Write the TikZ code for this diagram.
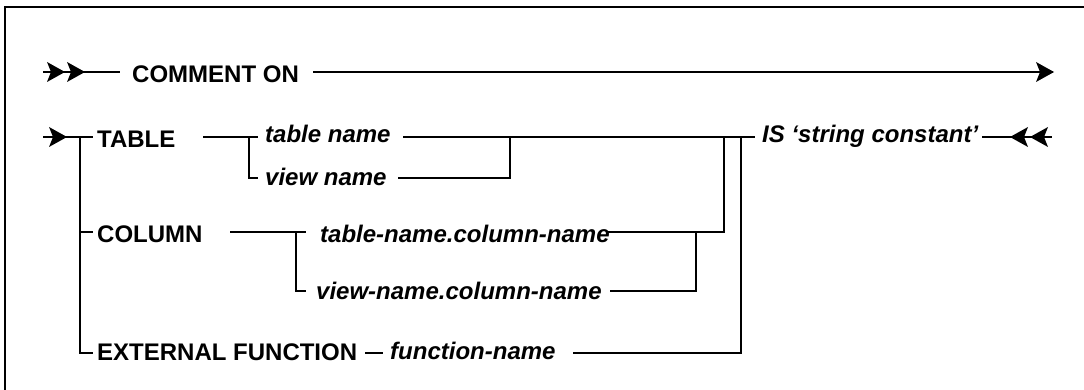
\documentclass[tikz,border=0pt]{standalone}
\usepackage{fontspec}
\setmainfont{Liberation Sans}
\begin{document}
\begin{tikzpicture}[x=1pt,y=-1pt,
  kw/.style={anchor=base west,inner sep=0pt,font=\fontsize{24}{28}\selectfont\bfseries},
  var/.style={anchor=base west,inner sep=0pt,font=\fontsize{24}{28}\selectfont\bfseries\itshape},
  rail/.style={line width=2.2pt},
  frame/.style={line width=2.8pt},
  headR/.pic={\fill (0,0) -- (-18,-10) -- (-14,0) -- (-18,10) -- cycle;},
  headL/.pic={\fill (0,0) -- (18,-10) -- (14,0) -- (18,10) -- cycle;}
]
\useasboundingbox (0,0) rectangle (1084,390);
% frame (open at right and bottom)
\draw[frame] (5,392) -- (5,7) -- (1086,7);

% texts
\node[kw]  (comment) at (132,83)  {COMMENT ON};
\node[kw]  (table)   at (97,148)  {TABLE};
\node[var] (tname)   at (265,143) {table name};
\node[var] (vname)   at (265,186) {view name};
\node[kw]  (column)  at (97,242)  {COLUMN};
\node[var] (tcol)    at (320,242) {table-name.column-name};
\node[var] (vcol)    at (316,299) {view-name.column-name};
\node[kw]  (ext)     at (97,360)  {EXTERNAL FUNCTION};
\node[var] (fname)   at (390,359) {function-name};
\node[var] (is)      at (762,143) {IS ‘string constant’};

% coordinates
\coordinate (r1s) at (43,72);
\coordinate (r1a) at (120,72);
\coordinate (r1b) at (313,72);
\coordinate (r1e) at (1053,72);
\coordinate (r2s) at (43,137);
\coordinate (lb)  at (80,137);
\coordinate (lt)  at (93,137);
\coordinate (lc)  at (80,232);
\coordinate (lct) at (93,232);
\coordinate (le)  at (80,353);
\coordinate (let) at (93,353);
\coordinate (ta)  at (203,137);
\coordinate (tb)  at (249,137);
\coordinate (tc)  at (258,137);
\coordinate (td)  at (249,178);
\coordinate (te)  at (258,178);
\coordinate (tn1) at (403,137);
\coordinate (isl) at (755,137);
\coordinate (vn1) at (398,178);
\coordinate (vn2) at (510,178);
\coordinate (vn3) at (510,137);
\coordinate (ca)  at (230,232);
\coordinate (cb)  at (296,232);
\coordinate (cc)  at (306,232);
\coordinate (cd)  at (296,291);
\coordinate (ce)  at (306,291);
\coordinate (tc1) at (607,232);
\coordinate (tc2) at (724,232);
\coordinate (tc3) at (724,137);
\coordinate (vc1) at (610,291);
\coordinate (vc2) at (696,291);
\coordinate (vc3) at (696,232);
\coordinate (d1)  at (365,353);
\coordinate (d2)  at (383,353);
\coordinate (fn1) at (573,353);
\coordinate (fn2) at (741,353);
\coordinate (fn3) at (741,137);
\coordinate (ise1) at (982,137);
\coordinate (ise2) at (1052,137);

% row 1
\draw[rail] (r1s) -- (r1a);
\pic at (65,72) {headR};
\pic at (85,72) {headR};
\draw[rail] (r1b) -- (r1e);
\pic at (1054,72) {headR};

% row 2 entry and left rail
\draw[rail] (r2s) -- (lt);
\pic at (67,137) {headR};
\draw[rail] (lb) -- (le) -- (let);
\draw[rail] (lc) -- (lct);

% TABLE branch
\draw[rail] (ta) -- (tc);
\draw[rail] (tb) -- (td) -- (te);
\draw[rail] (tn1) -- (isl);
\draw[rail] (vn1) -- (vn2) -- (vn3);

% COLUMN branch
\draw[rail] (ca) -- (cc);
\draw[rail] (cb) -- (cd) -- (ce);
\draw[rail] (tc1) -- (tc2) -- (tc3);
\draw[rail] (vc1) -- (vc2) -- (vc3);

% EXTERNAL FUNCTION branch
\draw[rail] (d1) -- (d2);
\draw[rail] (fn1) -- (fn2) -- (fn3);

% end
\draw[rail] (ise1) -- (ise2);
\pic at (1010,137) {headL};
\pic at (1030,137) {headL};
\end{tikzpicture}
\end{document}
